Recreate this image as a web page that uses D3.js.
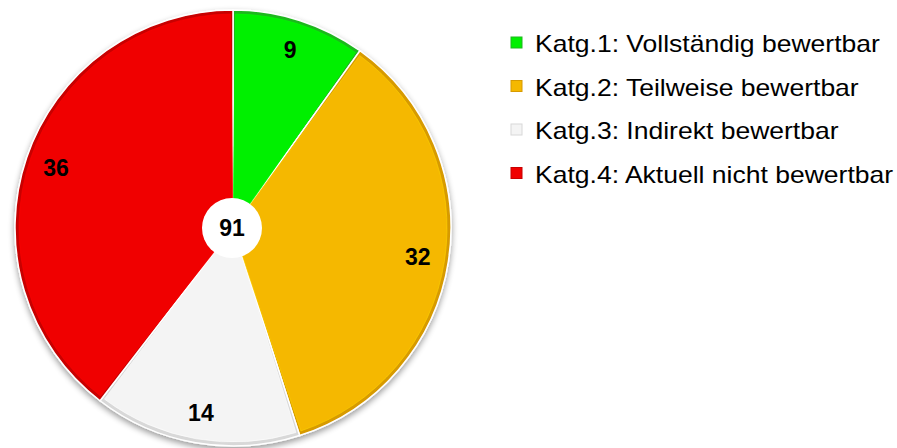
<!DOCTYPE html>
<html>
<head>
<meta charset="utf-8">
<script src="https://cdn.jsdelivr.net/npm/d3@7"></script>
<style>
    html, body { margin: 0; padding: 0; background: #fff; }
    svg { display: block; font-family: Arial, "Liberation Sans", sans-serif; }
</style>
</head>
<body>
<div id="chart"></div>
<script>
// Data
const categories = ['Katg.1: Vollständig bewertbar', 'Katg.2: Teilweise bewertbar', 'Katg.3: Indirekt bewertbar', 'Katg.4: Aktuell nicht bewertbar'];
const counts = [9, 32, 14, 36];
const sliceColors = ['#00f000', '#f5b800', '#f4f4f4', '#f00000'];
const edgeColors = ['#1fb81f', '#d79a00', '#d8d8d8', '#c80000'];

const width = 897;
const height = 448;
const cx = 233, cy = 228;
const radius = 218;

const svg = d3.select('#chart').append('svg')
    .attr('width', width)
    .attr('height', height);

const defs = svg.append('defs');
const shadow = defs.append('filter')
    .attr('id', 'shadow')
    .attr('x', '-10%').attr('y', '-10%')
    .attr('width', '120%').attr('height', '120%');
shadow.append('feGaussianBlur').attr('in', 'SourceAlpha').attr('stdDeviation', 3).attr('result', 'blur');
shadow.append('feOffset').attr('in', 'blur').attr('dx', 0).attr('dy', 3).attr('result', 'off');
shadow.append('feComponentTransfer').attr('in', 'off').attr('result', 'soft')
    .append('feFuncA').attr('type', 'linear').attr('slope', 0.4);
const merge = shadow.append('feMerge');
merge.append('feMergeNode').attr('in', 'soft');
merge.append('feMergeNode').attr('in', 'SourceGraphic');

const g = svg.append('g')
    .attr('transform', `translate(${cx},${cy})`);

const pie = d3.pie().sort(null).value(d => d);
const arcs = pie(counts);

const arc = d3.arc().innerRadius(0).outerRadius(radius);
const innerArc = d3.arc().innerRadius(0).outerRadius(radius - 4);
const labelArc = d3.arc().innerRadius(187).outerRadius(187);

// Slices
const slices = g.append('g').attr('filter', 'url(#shadow)');
slices.selectAll('path.slice')
    .data(arcs)
    .enter()
    .append('path')
    .attr('class', 'slice')
    .attr('d', arc)
    .attr('fill', (d, i) => edgeColors[i])
    .attr('stroke', '#fff')
    .attr('stroke-width', 1.5);

// bevel highlight
g.selectAll('path.inner')
    .data(arcs)
    .enter()
    .append('path')
    .attr('class', 'inner')
    .attr('d', d => innerArc({ startAngle: d.startAngle + 0.012, endAngle: d.endAngle - 0.012 }))
    .attr('fill', (d, i) => sliceColors[i])
    .attr('stroke', (d, i) => d3.color(sliceColors[i]).brighter(0.4))
    .attr('stroke-opacity', 0.6)
    .attr('stroke-width', 1);

// Value labels
g.selectAll('text.value')
    .data(arcs)
    .enter()
    .append('text')
    .attr('class', 'value')
    .attr('transform', d => `translate(${labelArc.centroid(d)})`)
    .attr('text-anchor', 'middle')
    .attr('dy', '0.36em')
    .style('font-size', '23px')
    .style('font-weight', '700')
    .style('fill', '#000')
    .text(d => d.data);

// Total in center
g.append('circle')
    .attr('cx', -1)
    .attr('cy', 0)
    .attr('r', 30)
    .attr('fill', '#fff');

g.append('text')
    .attr('x', -1)
    .attr('y', 0)
    .attr('dy', '0.36em')
    .attr('text-anchor', 'middle')
    .style('font-size', '23px')
    .style('font-weight', '700')
    .text(d3.sum(counts));

// Legend
const legend = svg.append('g')
    .attr('transform', 'translate(511,52)');

const rows = legend.selectAll('g.row')
    .data(categories)
    .enter()
    .append('g')
    .attr('class', 'row')
    .attr('transform', (d, i) => `translate(0,${i * 43.5})`);

rows.append('rect')
    .attr('x', 0)
    .attr('y', -15)
    .attr('width', 11)
    .attr('height', 11)
    .attr('fill', (d, i) => sliceColors[i])
    .attr('stroke', (d, i) => edgeColors[i])
    .attr('stroke-width', 1);

rows.append('text')
    .attr('transform', 'translate(24,0) scale(1.105,1)')
    .style('font-size', '24px')
    .style('fill', '#000')
    .text(d => d);
</script>
</body>
</html>
